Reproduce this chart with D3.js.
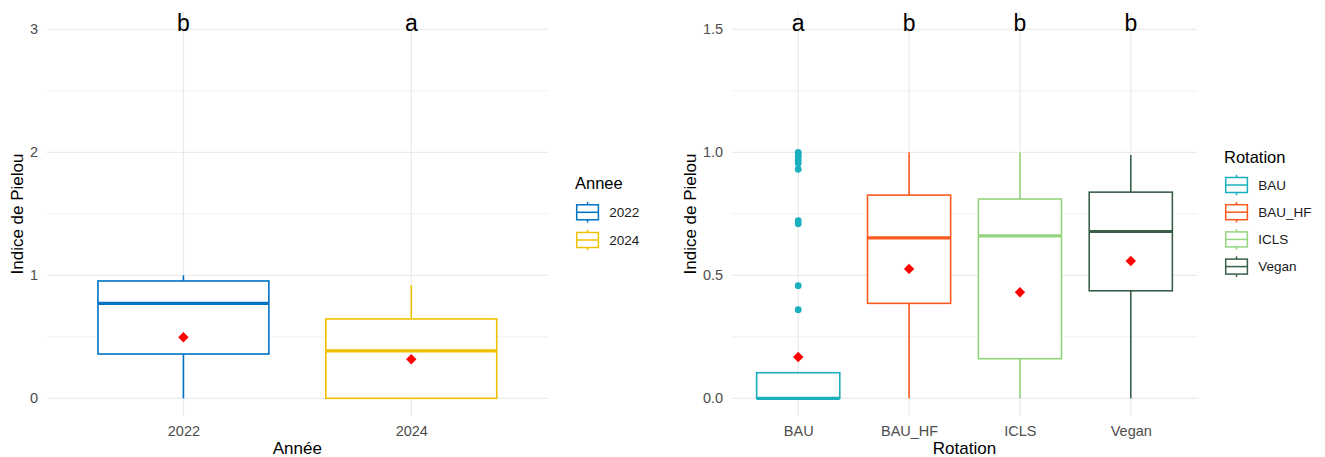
<!DOCTYPE html>
<html>
<head>
<meta charset="utf-8">
<script src="https://cdn.jsdelivr.net/npm/d3@7"></script>
<style>
  html, body { margin: 0; padding: 0; background: #fff; }
  svg { display: block; font-family: "Liberation Sans", Arial, Helvetica, sans-serif; }
</style>
</head>
<body>
<svg id="chart" width="1325" height="457"></svg>
<script>
// ---- Panel 1: Pielou index by year ----
const years       = ["2022", "2024"];
const yearLow     = [0.00, 0.00];
const yearQ1      = [0.36, 0.00];
const yearMedian  = [0.772, 0.385];
const yearQ3      = [0.954, 0.645];
const yearHigh    = [1.00, 0.921];
const yearMean    = [0.496, 0.317];
const yearLetters = ["b", "a"];
const yearColors  = ["#0073C2", "#EFC000"];
const yearTicks   = [0, 1, 2, 3];
const yearMinor   = [0.5, 1.5, 2.5];
const yearLetterY = 3;

// ---- Panel 2: Pielou index by rotation ----
const rotations     = ["BAU", "BAU_HF", "ICLS", "Vegan"];
const rotLow        = [0.00, 0.00, 0.00, 0.00];
const rotQ1         = [0.00, 0.386, 0.161, 0.437];
const rotMedian     = [0.00, 0.652, 0.660, 0.678];
const rotQ3         = [0.104, 0.826, 0.810, 0.838];
const rotHigh       = [0.104, 1.00, 1.00, 0.989];
const rotMean       = [0.168, 0.526, 0.431, 0.558];
const rotOutliers   = [[1.00, 0.99, 0.982, 0.968, 0.955, 0.931, 0.722, 0.71, 0.458, 0.36], [], [], []];
const rotLetters    = ["a", "b", "b", "b"];
const rotColors     = ["#1AAFBF", "#FC5A1E", "#93D47E", "#3A5F48"];
const rotTicks      = [0, 0.5, 1.0, 1.5];
const rotMinor      = [0.25, 0.75, 1.25];
const rotLetterY    = 1.5;

const svg = d3.select("#chart");
const GRID = "#ebebeb";

function drawPanel(cfg) {
  const g = svg.append("g");
  const x = d3.scalePoint().domain(cfg.cats).range([cfg.left, cfg.right]).padding(0.6);
  const y = d3.scaleLinear().domain([0, cfg.yMax]).range([cfg.y0, cfg.yTop]);
  const step = x.step();
  const bw = step * 0.75;

  // grid
  g.selectAll(".minor").data(cfg.minor).join("line")
    .attr("x1", cfg.left).attr("x2", cfg.right)
    .attr("y1", d => y(d)).attr("y2", d => y(d))
    .attr("stroke", GRID).attr("stroke-width", 0.7);
  g.selectAll(".major").data(cfg.ticks).join("line")
    .attr("x1", cfg.left).attr("x2", cfg.right)
    .attr("y1", d => y(d)).attr("y2", d => y(d))
    .attr("stroke", GRID).attr("stroke-width", 1.3);
  g.selectAll(".vmajor").data(cfg.cats).join("line")
    .attr("x1", d => x(d)).attr("x2", d => x(d))
    .attr("y1", cfg.panelTop).attr("y2", cfg.panelBottom)
    .attr("stroke", GRID).attr("stroke-width", 1.3);

  // y axis (ticks only, no line)
  const yAxis = d3.axisLeft(y).tickValues(cfg.ticks).tickFormat(cfg.fmt).tickSize(0).tickPadding(0);
  const ya = g.append("g").attr("transform", `translate(${cfg.left - 8.5},0)`).call(yAxis);
  ya.select(".domain").remove();
  ya.selectAll("text").attr("fill", "#4d4d4d").style("font-size", "14.5px")
    .style("font-family", "Liberation Sans, Arial, sans-serif");

  // x axis
  const xAxis = d3.axisBottom(x).tickSize(0).tickPadding(0);
  const xa = g.append("g").attr("transform", `translate(0,${cfg.panelBottom + 20})`).call(xAxis);
  xa.select(".domain").remove();
  xa.selectAll("text").attr("dy", 0).attr("fill", "#4d4d4d").style("font-size", "14.5px")
    .style("font-family", "Liberation Sans, Arial, sans-serif");

  // axis titles
  g.append("text").attr("x", (cfg.left + cfg.right) / 2).attr("y", 454)
    .attr("text-anchor", "middle").attr("fill", "#000").style("font-size", "17px")
    .text(cfg.xTitle);
  g.append("text")
    .attr("transform", `translate(${cfg.yTitleX},${(cfg.panelTop + cfg.panelBottom) / 2}) rotate(-90)`)
    .attr("text-anchor", "middle").attr("dy", "0.35em").attr("fill", "#000").style("font-size", "17px")
    .text("Indice de Pielou");

  const idx = cfg.cats.map((c, i) => i);

  // whiskers
  const boxes = g.selectAll(".box").data(idx).join("g");
  boxes.append("line")
    .attr("x1", i => x(cfg.cats[i])).attr("x2", i => x(cfg.cats[i]))
    .attr("y1", i => y(cfg.q3[i])).attr("y2", i => y(cfg.high[i]))
    .attr("stroke", i => cfg.colors[i]).attr("stroke-width", 1.6);
  boxes.append("line")
    .attr("x1", i => x(cfg.cats[i])).attr("x2", i => x(cfg.cats[i]))
    .attr("y1", i => y(cfg.q1[i])).attr("y2", i => y(cfg.low[i]))
    .attr("stroke", i => cfg.colors[i]).attr("stroke-width", 1.6);
  // box
  boxes.append("rect")
    .attr("x", i => x(cfg.cats[i]) - bw / 2).attr("width", bw)
    .attr("y", i => y(cfg.q3[i])).attr("height", i => y(cfg.q1[i]) - y(cfg.q3[i]))
    .attr("fill", "#fff").attr("stroke", i => cfg.colors[i]).attr("stroke-width", 1.6);
  // median
  boxes.append("line")
    .attr("x1", i => x(cfg.cats[i]) - bw / 2).attr("x2", i => x(cfg.cats[i]) + bw / 2)
    .attr("y1", i => y(cfg.median[i])).attr("y2", i => y(cfg.median[i]))
    .attr("stroke", i => cfg.colors[i]).attr("stroke-width", 3.2);

  // outliers
  if (cfg.outliers) {
    cfg.outliers.forEach((arr, i) => {
      g.selectAll(null).data(arr).join("circle")
        .attr("cx", x(cfg.cats[i])).attr("cy", d => y(d)).attr("r", 3.4)
        .attr("fill", cfg.colors[i]);
    });
  }

  // mean markers (diamonds)
  const dr = 5.2;
  g.selectAll(".mean").data(idx).join("path")
    .attr("d", i => {
      const cx = x(cfg.cats[i]), cy = y(cfg.mean[i]);
      return `M${cx},${cy - dr}L${cx + dr},${cy}L${cx},${cy + dr}L${cx - dr},${cy}Z`;
    })
    .attr("fill", "#ff0000");

  // group letters
  g.selectAll(".letter").data(idx).join("text")
    .attr("x", i => x(cfg.cats[i])).attr("y", y(cfg.letterY) + 1.2)
    .attr("text-anchor", "middle").attr("fill", "#000").style("font-size", "23px")
    .text(i => cfg.letters[i]);

  // legend
  const lg = svg.append("g");
  lg.append("text").attr("x", cfg.legX).attr("y", cfg.legTitleY)
    .attr("fill", "#000").style("font-size", "16.5px").text(cfg.legTitle);
  const kw = 21.7, kh = 15, wh = 10.3;
  cfg.cats.forEach((c, i) => {
    const cy = cfg.legKeyY + i * cfg.legStep;
    const kx = cfg.legX + 1.7;
    const col = cfg.colors[i];
    lg.append("line").attr("x1", kx + kw / 2).attr("x2", kx + kw / 2)
      .attr("y1", cy - wh).attr("y2", cy + wh).attr("stroke", col).attr("stroke-width", 1.5);
    lg.append("rect").attr("x", kx).attr("y", cy - kh / 2).attr("width", kw).attr("height", kh)
      .attr("fill", "#fff").attr("stroke", col).attr("stroke-width", 1.5);
    lg.append("line").attr("x1", kx).attr("x2", kx + kw)
      .attr("y1", cy).attr("y2", cy).attr("stroke", col).attr("stroke-width", 1.5);
    lg.append("text").attr("x", cfg.legX + 34.3).attr("y", cy).attr("dy", "0.35em")
      .attr("fill", "#1a1a1a").style("font-size", "13.5px").text(c);
  });
}

drawPanel({
  cats: years, low: yearLow, q1: yearQ1, median: yearMedian, q3: yearQ3, high: yearHigh,
  mean: yearMean, letters: yearLetters, colors: yearColors, ticks: yearTicks, minor: yearMinor,
  letterY: yearLetterY, yMax: 3, fmt: d3.format("d"),
  left: 46.7, right: 548, y0: 398.3, yTop: 29.3, panelTop: 12, panelBottom: 416,
  xTitle: "Année", yTitleX: 17,
  legTitle: "Annee", legX: 575, legTitleY: 189.3, legKeyY: 212.3, legStep: 27.7
});

drawPanel({
  cats: rotations, low: rotLow, q1: rotQ1, median: rotMedian, q3: rotQ3, high: rotHigh,
  mean: rotMean, outliers: rotOutliers, letters: rotLetters, colors: rotColors,
  ticks: rotTicks, minor: rotMinor, letterY: rotLetterY, yMax: 1.5, fmt: d3.format(".1f"),
  left: 731.7, right: 1197.3, y0: 398.3, yTop: 29.3, panelTop: 12, panelBottom: 416,
  xTitle: "Rotation", yTitleX: 690,
  legTitle: "Rotation", legX: 1224, legTitleY: 162.7, legKeyY: 185, legStep: 27.2
});
</script>
</body>
</html>
